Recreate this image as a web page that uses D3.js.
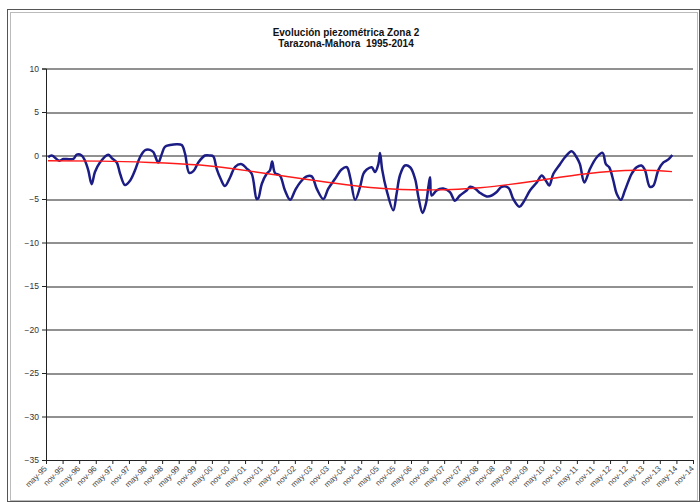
<!DOCTYPE html>
<html>
<head>
<meta charset="utf-8">
<script src="https://cdn.jsdelivr.net/npm/d3@7"></script>
<style>
  body { margin: 0; background: #fff; }
  text { font-family: "Liberation Sans", Arial, sans-serif; }
</style>
</head>
<body>
<script>
// meses desde may-95 (0) y nivel piezometrico (m)
const meses = [0.8, 2.1, 4.8, 6.3, 7.5, 9.9, 11.1, 12.9, 14.1, 15.3, 16.5, 17.7, 19.5, 22.5, 23.8,
  25.6, 26.8, 28.6, 30.4, 32.2, 34.0, 35.8, 37.6, 38.8, 40.6, 41.8, 43.0, 44.9, 47.3, 49.1,
  50.3, 51.8, 53.3, 55.1, 57.5, 59.3, 60.5, 61.7, 63.2, 64.7, 66.6, 68.4, 70.8, 72.6, 74.4,
  76.2, 76.8, 78.0, 79.8, 81.0, 81.8, 82.8, 84.6, 86.4, 88.3, 90.1, 91.9, 94.3, 96.1, 97.9,
  100.3, 102.1, 104.5, 106.9, 108.8, 110.0, 111.8, 113.6, 114.8, 116.0, 117.8, 119.0, 120.2,
  120.8, 121.6, 123.2, 125.6, 126.8, 128.0, 129.8, 131.7, 133.5, 134.7, 136.2, 137.4, 138.3,
  138.9, 139.5, 141.3, 143.7, 146.1, 147.9, 149.7, 152.2, 153.4, 155.2, 157.0, 159.4, 161.2,
  163.0, 164.8, 167.2, 169.0, 171.2, 172.6, 175.1, 177.5, 179.3, 180.8, 182.0, 183.5, 185.9,
  187.7, 190.1, 191.9, 193.1, 194.7, 196.8, 199.2, 201.3, 202.5, 203.7, 205.2, 206.4, 207.9,
  209.4, 211.8, 213.6, 215.4, 216.6, 218.4, 219.6, 221.5, 223.3, 225.1, 226.5];
const niveles = [-0.2, 0.0, -0.6, -0.4, -0.4, -0.4, 0.1, 0.0, -0.6, -1.7, -3.3, -1.9, -0.8, 0.1, -0.3,
  -0.8, -2.1, -3.4, -2.9, -1.7, -0.2, 0.6, 0.65, 0.4, -0.8, 0.1, 1.0, 1.2, 1.3, 1.2,
  0.2, -2.0, -1.8, -0.8, 0.0, 0.0, -0.1, -1.5, -2.7, -3.5, -2.5, -1.3, -1.0, -1.5, -2.1,
  -5.0, -4.9, -3.3, -2.1, -1.7, -0.7, -2.0, -2.3, -4.0, -5.1, -4.0, -3.1, -2.4, -2.4, -3.8,
  -5.0, -3.8, -2.7, -1.6, -1.35, -2.5, -5.1, -3.6, -2.1, -1.6, -1.35, -1.9, -1.0,
  0.3, -1.65, -4.0, -6.3, -4.4, -2.3, -1.15, -1.35, -2.7, -4.8, -6.6, -5.55, -3.6,
  -2.5, -4.6, -4.0, -3.8, -4.2, -5.2, -4.6, -4.0, -3.6, -3.8, -4.3, -4.7, -4.6,
  -4.2, -3.6, -3.7, -5.0, -5.9, -5.4, -4.0, -3.1, -2.3, -2.9, -3.45, -2.1, -1.0,
  -0.2, 0.5, -0.2, -1.0, -3.1, -1.5, -0.2, 0.3, -1.0, -1.35, -2.9, -4.4, -5.1,
  -4.0, -2.1, -1.35, -1.15, -1.65, -3.6, -3.5, -1.65, -0.8, -0.45, 0.05];

// linea de tendencia (roja)
const mesesTend = [0.7, 19.5, 37.6, 55.7, 73.8, 97.9, 121.9, 140.0, 157.0, 177.5, 195.5, 213.6, 226.4];
const nivelesTend = [-0.6, -0.65, -0.8, -1.1, -1.8, -2.9, -3.8, -3.95, -3.7, -2.9, -2.1, -1.7, -1.85];

const etiquetasX = [];
for (let a = 1995; a <= 2014; a++) {
  const yy = String(a % 100).padStart(2, "0");
  etiquetasX.push("may-" + yy, "nov-" + yy);
}
const ticksY = [10, 5, 0, -5, -10, -15, -20, -25, -30, -35];

const W = 700, H = 502;
const margin = { left: 46, right: 7, top: 68.5, bottom: 42 };
const width = W - margin.left - margin.right;
const height = H - margin.top - margin.bottom;

const svg = d3.select("body").append("svg")
  .attr("width", W).attr("height", H);

// marco exterior
svg.append("rect").attr("x", 7.5).attr("y", 9.5).attr("width", 692).attr("height", 492)
  .attr("fill", "none").attr("stroke", "#555");
svg.append("rect").attr("x", 10.5).attr("y", 12.5).attr("width", 687).attr("height", 488)
  .attr("fill", "none").attr("stroke", "#bbb");

// titulo
svg.append("text").attr("x", 346).attr("y", 35.5).attr("text-anchor", "middle")
  .attr("font-size", "10px").attr("font-weight", "bold").attr("fill", "#111")
  .text("Evolución piezométrica Zona 2");
svg.append("text").attr("x", 346).attr("y", 47).attr("text-anchor", "middle")
  .attr("font-size", "10px").attr("font-weight", "bold").attr("fill", "#111")
  .attr("xml:space", "preserve")
  .text("Tarazona-Mahora\u00A0 1995-2014");

const g = svg.append("g").attr("transform", "translate(" + margin.left + "," + margin.top + ")");

const x = d3.scaleLinear().domain([0, 234]).range([0, 647]);
const y = d3.scaleLinear().domain([-35, 10]).range([height, 0]);

// lineas de cuadricula
g.selectAll(".grid").data(ticksY.filter(d => d > -35)).enter().append("line")
  .attr("x1", 0).attr("x2", 647)
  .attr("y1", d => Math.round(y(d)) + 0.5).attr("y2", d => Math.round(y(d)) + 0.5)
  .attr("stroke", "#222").attr("stroke-width", 1);

// eje Y
const yAxis = d3.axisLeft(y).tickValues(ticksY).tickSize(4).tickPadding(3);
const gY = g.append("g").call(yAxis);
gY.select(".domain").attr("stroke", "#222");
gY.selectAll(".tick line").attr("stroke", "#222");
gY.selectAll("text").attr("font-size", "8.5px").attr("fill", "#333")
  .style("font-family", "Liberation Sans, Arial, sans-serif");

// eje X
const xAxis = d3.axisBottom(x).tickValues(d3.range(0, 240, 6))
  .tickFormat((d, i) => etiquetasX[i]).tickSize(4).tickSizeOuter(0);
const gX = g.append("g").attr("transform", "translate(0," + height + ")").call(xAxis);
gX.select(".domain").attr("stroke", "#222");
gX.selectAll(".tick line").attr("stroke", "#222");
gX.selectAll("text")
  .attr("font-size", "8px").attr("fill", "#444")
  .style("font-family", "Liberation Sans, Arial, sans-serif")
  .attr("text-anchor", "end")
  .attr("dx", 0).attr("dy", 0)
  .attr("transform", "translate(1,9) rotate(-45)")
  .attr("y", 0);

// serie piezometrica
const datos = meses.map((m, i) => ({ m: m, v: niveles[i] }));
const linea = d3.line().x(d => x(d.m)).y(d => y(d.v)).curve(d3.curveCatmullRom.alpha(0.5));
g.append("path").datum(datos).attr("d", linea)
  .attr("fill", "none").attr("stroke", "#1c1c85").attr("stroke-width", 2.5)
  .attr("stroke-linejoin", "round");

// tendencia
const tend = mesesTend.map((m, i) => ({ m: m, v: nivelesTend[i] }));
const lineaT = d3.line().x(d => x(d.m)).y(d => y(d.v)).curve(d3.curveNatural);
g.append("path").datum(tend).attr("d", lineaT)
  .attr("fill", "none").attr("stroke", "#ff1a1a").attr("stroke-width", 1.4);
</script>
</body>
</html>
